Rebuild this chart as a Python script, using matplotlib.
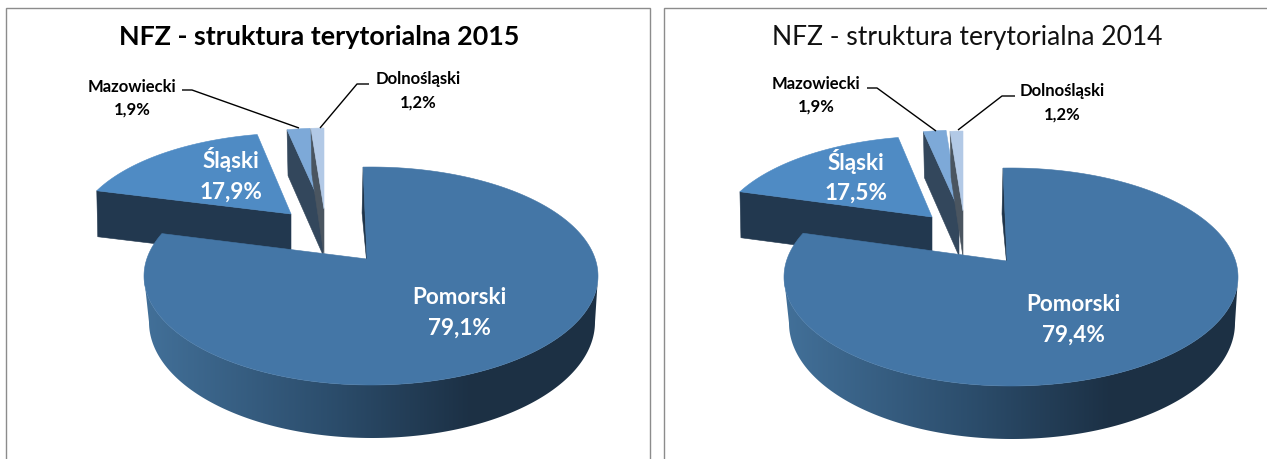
import numpy as np
import matplotlib
matplotlib.use("Agg")
import matplotlib.pyplot as plt
from matplotlib.patches import Polygon, Rectangle

categories = ["Pomorski", "Śląski", "Mazowiecki", "Dolnośląski"]
values_2015 = [79.1, 17.9, 1.9, 1.2]
values_2014 = [79.4, 17.5, 1.9, 1.2]
title_2015 = "NFZ - struktura terytorialna 2015"
title_2014 = "NFZ - struktura terytorialna 2014"

plt.rcParams["font.family"] = ["Lato", "DejaVu Sans"]

TOP = ["#4476a6", "#4f8bc4", "#7da9d8", "#b2c9e6"]
SIDE = ["#1f3449", "#22384f", "#33475c", "#4a5560"]
GRAD_X = [0.0, 0.42, 0.72, 1.0]
GRAD_C = [(0.26, 0.44, 0.60), (0.17, 0.30, 0.42), (0.11, 0.19, 0.27), (0.11, 0.19, 0.27)]

fig = plt.figure(figsize=(12.67, 4.6), dpi=100)
ax = fig.add_axes([0, 0, 1, 1])
ax.axis("off")


def ray_hit(apex, centre, rx, ry, theta, s=0.0):
    """Point where a pie radius at clockwise angle theta meets the ellipse."""
    d = np.array([np.sin(theta) * rx - s * np.cos(theta) * ry, -np.cos(theta) * ry])
    p = np.array(apex, float) - np.array(centre, float)
    a = (d[0] / rx) ** 2 + (d[1] / ry) ** 2
    b = 2 * (p[0] * d[0] / rx**2 + p[1] * d[1] / ry**2)
    c = (p[0] / rx) ** 2 + (p[1] / ry) ** 2 - 1
    t = (-b + np.sqrt(b * b - 4 * a * c)) / (2 * a)
    q = p + t * d
    return np.arctan2(q[0] / rx, -q[1] / ry) % (2 * np.pi)


def arc(centre, rx, ry, p0, p1, n=160):
    if p1 < p0:
        p1 += 2 * np.pi
    phi = np.linspace(p0, p1, n)
    return np.column_stack([centre[0] + rx * np.sin(phi), centre[1] - ry * np.cos(phi)])


def poly(points, color, z):
    ax.add_patch(Polygon(points, closed=True, fc=color, ec=color, lw=0.4, zorder=z))


def wedge(apex, centre, rx, ry, t0, t1, i, depth, z, s=0.0):
    p0 = ray_hit(apex, centre, rx, ry, t0, s)
    p1 = ray_hit(apex, centre, rx, ry, t1 if t1 < 2 * np.pi - 1e-6 else 2 * np.pi - 1e-6)
    a = arc(centre, rx, ry, p0, p1)
    outer = a[0]
    poly([outer, apex, (apex[0], apex[1] + depth), (outer[0] + 1, outer[1] + depth)], SIDE[i], z)
    poly(np.vstack([[apex], a]), TOP[i], z + 0.5)


def draw_pie(values, geom):
    total = sum(values)
    edges = np.cumsum([0] + list(values)) / total * 2 * np.pi
    # exploded small slices, back to front
    for i in (1, 2, 3):
        g = geom[i]
        wedge(g["apex"], g["c"], g["rx"], g["ry"], edges[i], edges[i + 1], i, g["d"], 2 + i, g.get("s", 0.0))
    # main slice
    g = geom[0]
    c, rx, ry = g["c"], g["rx"], g["ry"]
    cb = (c[0] + 1, c[1] + 46)
    rxb, ryb = rx - 4, ry + 7
    lo, hi = c[0] - rx, c[0] + rx
    top_arc = arc(c, rx, ry, np.pi / 2, 3 * np.pi / 2, 300)
    bot_arc = arc(cb, rxb, ryb, np.pi / 2, 3 * np.pi / 2, 300)[::-1]
    f = np.linspace(0, 1, 460)
    grad = np.stack([np.interp(f, GRAD_X, [q[j] for q in GRAD_C]) for j in range(3)], axis=1)[None, :, :]
    im = ax.imshow(grad, extent=(lo, hi, 460, 0), aspect="auto", zorder=6, interpolation="bilinear")
    clip = Polygon(np.vstack([top_arc, bot_arc]), closed=True, transform=ax.transData)
    im.set_clip_path(clip)
    apex = g["apex"]
    p0 = ray_hit(apex, c, rx, ry, edges[0] + 1e-4, 0.043)
    p1 = ray_hit(apex, c, rx, ry, edges[1])
    a = arc(c, rx, ry, p0, p1, 400)
    start = a[0]
    poly([start, apex, (apex[0], apex[1] + 6), (start[0] - 1, start[1] + g["d"])], SIDE[0], 6.2)
    poly(np.vstack([[apex], a]), TOP[0], 7)


def label(x, y, s, size, color, weight="bold", z=9):
    ax.text(x, y, s, fontsize=size, color=color, fontweight=weight, ha="center", va="center", zorder=z)


def pct(v):
    return f"{v:.1f}".replace(".", ",") + "%"


geom_2015 = [
    dict(apex=(367, 260), c=(371, 277), rx=227, ry=109, d=46),
    dict(apex=(291, 215), c=(295, 236), rx=220, ry=102, d=46),
    dict(apex=(323, 210), c=(327, 229), rx=215, ry=100, d=46, s=0.03),
    dict(apex=(324, 210), c=(328, 229), rx=215, ry=100, d=46),
]
geom_2014 = [
    dict(apex=(1007, 262), c=(1011, 278), rx=227, ry=109, d=46),
    dict(apex=(932, 218), c=(936, 239), rx=220, ry=102, d=46),
    dict(apex=(959, 211), c=(963, 231), rx=215, ry=100, d=46, s=0.03),
    dict(apex=(963, 212), c=(967, 232), rx=215, ry=100, d=46),
]

# panel frames
for x0, x1 in ((6, 650), (664, 1290)):
    ax.add_patch(Rectangle((x0, 9), x1 - x0, 480, fc="white", ec="#8c8c8c", lw=1.0, zorder=1))

draw_pie(values_2015, geom_2015)
draw_pie(values_2014, geom_2014)

ax.set_xlim(0, 1267)
ax.set_ylim(460, 0)

# titles
ax.text(319, 37, title_2015, fontsize=19.4, fontweight="bold", ha="center", va="center", color="black", zorder=9)
ax.text(967, 37, title_2014, fontsize=19.1, ha="center", va="center", color="#111111", zorder=9)

WHITE_SIZE = 16.2
BLACK_SIZE = 12

# labels 2015
label(459, 298, categories[0], WHITE_SIZE, "white")
label(459, 328, pct(values_2015[0]), WHITE_SIZE, "white")
label(231, 160, categories[1], WHITE_SIZE, "white")
label(231, 192, pct(values_2015[1]), WHITE_SIZE, "white")
label(132, 87, categories[2], BLACK_SIZE, "black")
label(132, 110, pct(values_2015[2]), BLACK_SIZE, "black")
label(418, 79, categories[3], BLACK_SIZE, "black")
label(418, 103, pct(values_2015[3]), BLACK_SIZE, "black")

# labels 2014
label(1073, 305, categories[0], WHITE_SIZE, "white")
label(1073, 335, pct(values_2014[0]), WHITE_SIZE, "white")
label(856, 162, categories[1], WHITE_SIZE, "white")
label(856, 193, pct(values_2014[1]), WHITE_SIZE, "white")
label(816, 84, categories[2], BLACK_SIZE, "black")
label(816, 107, pct(values_2014[2]), BLACK_SIZE, "black")
label(1062, 91, categories[3], BLACK_SIZE, "black")
label(1062, 115, pct(values_2014[3]), BLACK_SIZE, "black")

# leader lines
leaders = [
    [(182, 91), (192, 91), (299, 129)],
    [(369, 85), (357, 85), (320, 129)],
    [(867, 89), (877, 89), (936, 132)],
    [(1015, 97), (1002, 97), (958, 131)],
]
for pts in leaders:
    xs, ys = zip(*pts)
    ax.plot(xs, ys, color="black", lw=1.0, zorder=8, solid_capstyle="butt")

fig.savefig("out.png", dpi=100, facecolor="white")
